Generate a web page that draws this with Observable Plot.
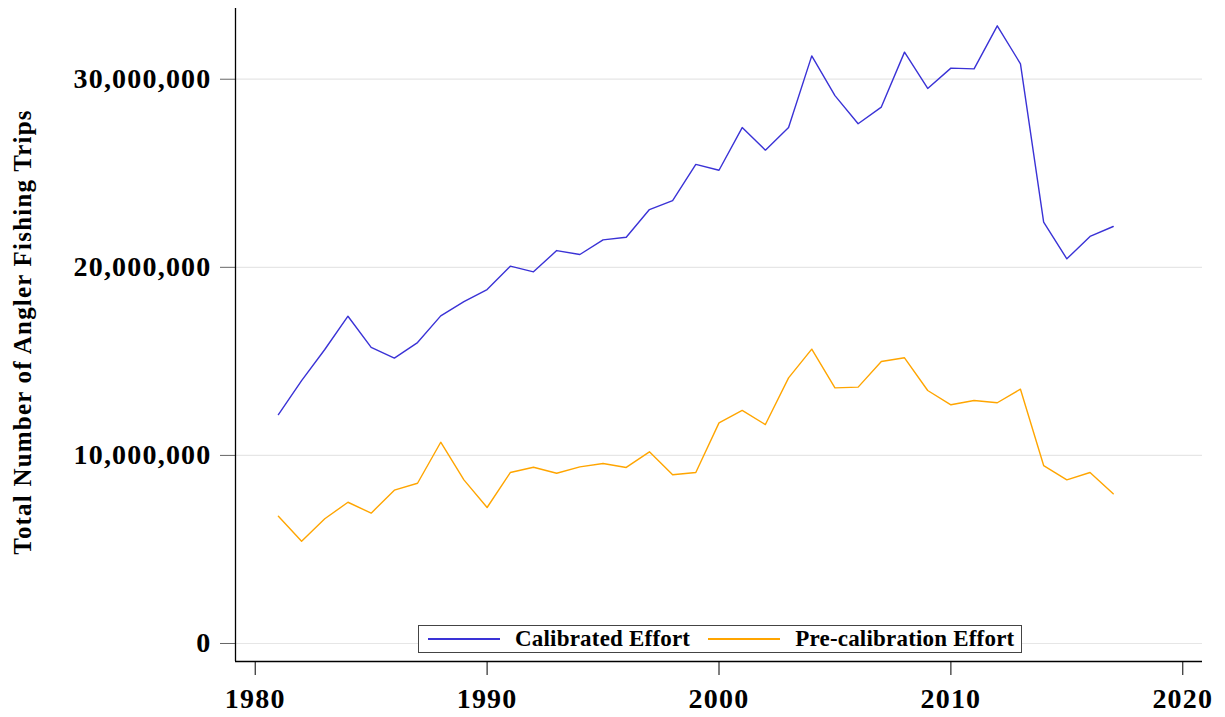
<!DOCTYPE html>
<html>
<head>
<meta charset="utf-8">
<script src="https://cdn.jsdelivr.net/npm/d3@7"></script>
<script src="https://cdn.jsdelivr.net/npm/@observablehq/plot@0.6"></script>
<style>
  html, body { margin: 0; padding: 0; background: #fff; }
  #wrap { position: relative; width: 1225px; height: 717px; font-family: "Liberation Serif", "Times New Roman", serif; }
  #legend {
    position: absolute; left: 418px; top: 625px; width: 602px; height: 26px;
    border: 1.5px solid #444; background: #fff; box-sizing: content-box;
    font-family: "Liberation Serif", serif; font-weight: bold; font-size: 23px;
    display: flex; align-items: center; letter-spacing: 0.2px;
  }
  .sw { display: inline-block; width: 72px; height: 0; border-top: 2px solid; margin-left: 9px; margin-right: 15px; }
</style>
</head>
<body>
<div id="wrap"><div id="legend"></div></div>
<script>
const years = [1981,1982,1983,1984,1985,1986,1987,1988,1989,1990,1991,1992,1993,1994,1995,1996,1997,1998,1999,2000,2001,2002,2003,2004,2005,2006,2007,2008,2009,2010,2011,2012,2013,2014,2015,2016,2017];
const calibrated = [12.17,13.98,15.63,17.40,15.74,15.17,16.00,17.42,18.18,18.82,20.06,19.76,20.89,20.68,21.46,21.60,23.07,23.55,25.47,25.16,27.43,26.23,27.43,31.24,29.13,27.63,28.52,31.44,29.51,30.59,30.55,32.84,30.82,22.40,20.45,21.64,22.17].map(v => v * 1e6);
const precalibration = [6.77,5.44,6.63,7.51,6.93,8.15,8.52,10.70,8.70,7.23,9.09,9.37,9.05,9.39,9.57,9.36,10.19,8.97,9.09,11.73,12.39,11.64,14.12,15.65,13.59,13.63,14.99,15.19,13.45,12.69,12.92,12.80,13.52,9.46,8.70,9.09,7.96].map(v => v * 1e6);
const seriesNames = ["Calibrated Effort", "Pre-calibration Effort"];
const seriesColors = ["#3a32d6", "#ffa500"];
const xTicks = [1980, 1990, 2000, 2010, 2020];
const yTicks = [0, 10000000, 20000000, 30000000];
const xDomain = [1979.15, 2020.85];
const yDomain = [-957000, 33760000];
const yTitle = "Total Number of Angler Fishing Trips";

const data = [];
years.forEach((yr, i) => {
  data.push({year: yr, value: calibrated[i], series: seriesNames[0]});
  data.push({year: yr, value: precalibration[i], series: seriesNames[1]});
});

const font = "Liberation Serif, Times New Roman, serif";
const chart = Plot.plot({
  width: 1225,
  height: 717,
  marginLeft: 235,
  marginRight: 23,
  marginTop: 8,
  marginBottom: 56,
  style: {fontFamily: font, fontWeight: "bold", fontSize: "28px", color: "#000", background: "#fff", letterSpacing: "1.2px"},
  x: {domain: xDomain},
  y: {domain: yDomain},
  color: {domain: seriesNames, range: seriesColors},
  marks: [
    Plot.gridY(yTicks, {stroke: "#e6e6e6", strokeOpacity: 1, strokeWidth: 1.2}),
    Plot.axisY(yTicks, {tickSize: 15, tickPadding: 9, stroke: "#666", tickFormat: d3.format(","), fontSize: 28, fontWeight: "bold", label: null}),
    Plot.axisX(xTicks, {tickSize: 14, tickPadding: 13, stroke: "#000", tickFormat: d => String(d), fontSize: 28, fontWeight: "bold", label: null}),
    Plot.ruleX([xDomain[0]], {stroke: "#000", strokeWidth: 1.3}),
    Plot.ruleY([yDomain[0]], {stroke: "#000", strokeWidth: 1.3}),
    Plot.line(data, {x: "year", y: "value", z: "series", stroke: "series", strokeWidth: 1.4}),
    Plot.text([yTitle], {frameAnchor: "left", textAnchor: "middle", dx: -213, dy: -3, rotate: -90, fontSize: 25, fontWeight: "bold", fill: "#000", style: "letter-spacing:0px"})
  ]
});
const wrap = document.getElementById("wrap");
wrap.insertBefore(chart, wrap.firstChild);

const legend = document.getElementById("legend");
seriesNames.forEach((name, i) => {
  const sw = document.createElement("span");
  sw.className = "sw";
  sw.style.borderTopColor = seriesColors[i];
  const t = document.createElement("span");
  t.textContent = name;
  if (i > 0) sw.style.marginLeft = "18px";
  legend.appendChild(sw);
  legend.appendChild(t);
});
</script>
</body>
</html>
